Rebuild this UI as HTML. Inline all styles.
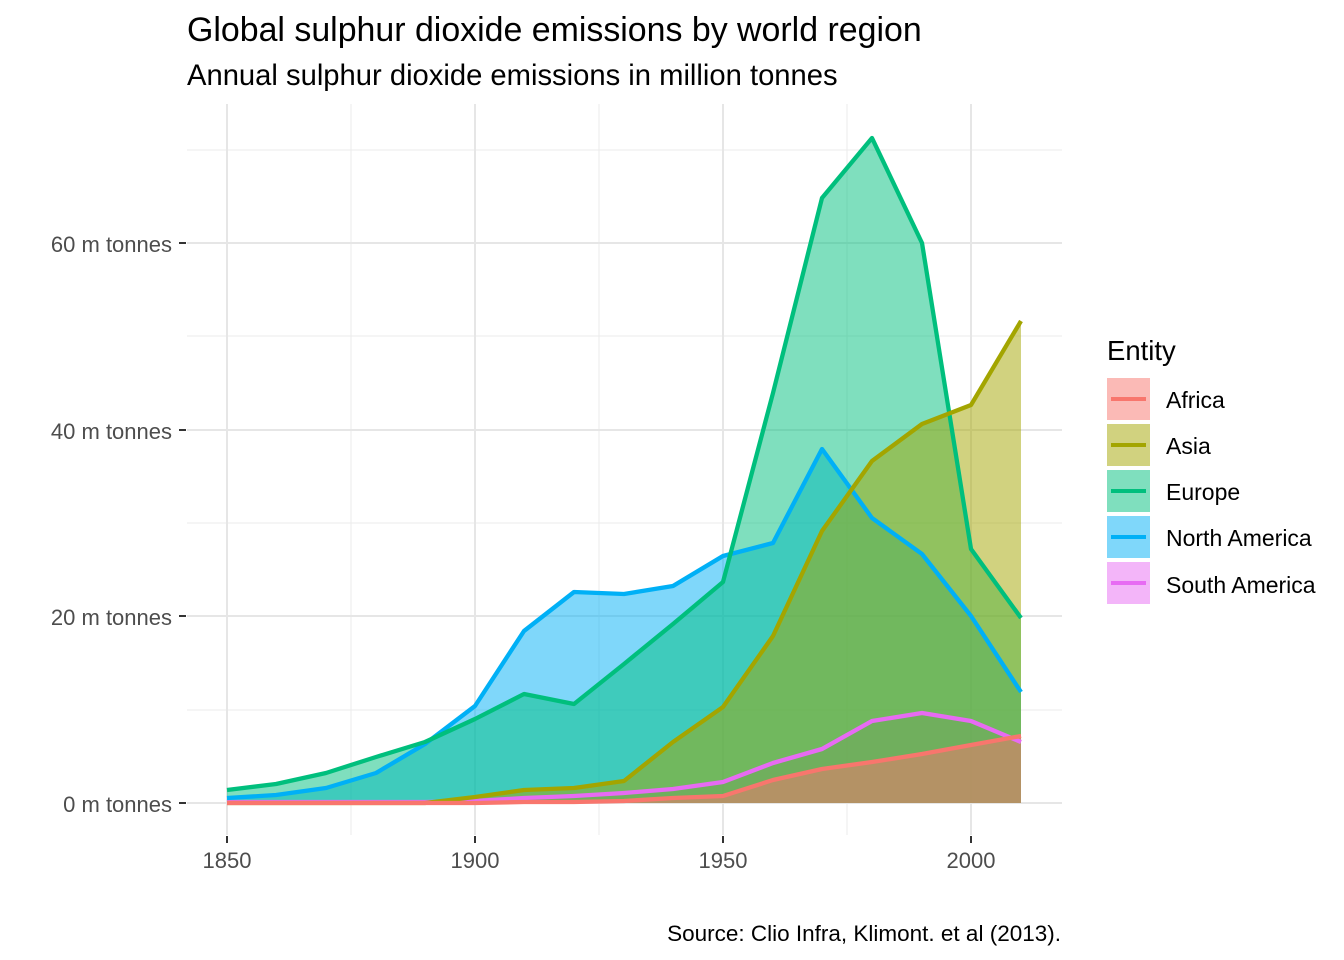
<!DOCTYPE html>
<html><head><meta charset="utf-8"><style>body{margin:0;background:#fff}svg{display:block;font-family:"Liberation Sans",Arial,sans-serif}</style></head><body>
<svg width="1344" height="960" viewBox="0 0 1344 960">
<rect width="1344" height="960" fill="#fff"/>
<g stroke="#ebebeb" stroke-width="1">
<line x1="187" x2="1062" y1="710" y2="710"/><line x1="187" x2="1062" y1="523" y2="523"/><line x1="187" x2="1062" y1="336" y2="336"/><line x1="187" x2="1062" y1="150" y2="150"/>
<line x1="351" x2="351" y1="104" y2="835"/><line x1="599" x2="599" y1="104" y2="835"/><line x1="847" x2="847" y1="104" y2="835"/>
</g>
<g stroke="#e6e6e6" stroke-width="2">
<line x1="187" x2="1062" y1="803" y2="803"/><line x1="187" x2="1062" y1="616" y2="616"/><line x1="187" x2="1062" y1="430" y2="430"/><line x1="187" x2="1062" y1="243" y2="243"/>
<line x1="227" x2="227" y1="104" y2="835"/><line x1="475" x2="475" y1="104" y2="835"/><line x1="723" x2="723" y1="104" y2="835"/><line x1="971" x2="971" y1="104" y2="835"/>
</g>
<g fill-opacity="0.5">
<polygon fill="#E76BF3" points="227,803 227,802 276,802 326,802 376,802 425,802 475,801 524,798 574,796 624,793 673,789 723,782 773,763 822,749 872,721 922,713 971,721 1021,742 1021,803"/>
<polygon fill="#00B0F6" points="227,803 227,798 276,795 326,788 376,773 425,744 475,706 524,631 574,592 624,594 673,586 723,556 773,543 822,449 872,518 922,554 971,616 1021,692 1021,803"/>
<polygon fill="#00BF7D" points="227,803 227,790 276,784 326,773 376,757 425,742 475,719 524,694 574,704 624,664 673,624 723,582 773,393 822,198 872,138 922,243 971,549 1021,618 1021,803"/>
<polygon fill="#A3A500" points="227,803 227,803 276,803 326,803 376,803 425,803 475,797 524,790 574,788 624,781 673,742 723,707 773,636 822,531 872,461 922,424 971,405 1021,321 1021,803"/>
<polygon fill="#F8766D" points="227,803 227,803 276,803 326,803 376,803 425,803 475,803 524,802 574,802 624,801 673,798 723,796 773,780 822,769 872,762 922,754 971,745 1021,736 1021,803"/>
</g>
<g fill="none" stroke-width="4.3" stroke-linejoin="round">
<polyline stroke="#E76BF3" points="227,802 276,802 326,802 376,802 425,802 475,801 524,798 574,796 624,793 673,789 723,782 773,763 822,749 872,721 922,713 971,721 1021,742"/>
<polyline stroke="#00B0F6" points="227,798 276,795 326,788 376,773 425,744 475,706 524,631 574,592 624,594 673,586 723,556 773,543 822,449 872,518 922,554 971,616 1021,692"/>
<polyline stroke="#00BF7D" points="227,790 276,784 326,773 376,757 425,742 475,719 524,694 574,704 624,664 673,624 723,582 773,393 822,198 872,138 922,243 971,549 1021,618"/>
<polyline stroke="#A3A500" points="227,803 276,803 326,803 376,803 425,803 475,797 524,790 574,788 624,781 673,742 723,707 773,636 822,531 872,461 922,424 971,405 1021,321"/>
<polyline stroke="#F8766D" points="227,803 276,803 326,803 376,803 425,803 475,803 524,802 574,802 624,801 673,798 723,796 773,780 822,769 872,762 922,754 971,745 1021,736"/>
</g>
<g fill="#4d4d4d" font-size="22" text-anchor="end">
<text x="172" y="812">0 m tonnes</text><text x="172" y="625">20 m tonnes</text><text x="172" y="439">40 m tonnes</text><text x="172" y="252">60 m tonnes</text>
</g>
<g stroke="#333" stroke-width="2"><line x1="179" x2="186" y1="803" y2="803"/><line x1="179" x2="186" y1="616" y2="616"/><line x1="179" x2="186" y1="430" y2="430"/><line x1="179" x2="186" y1="243" y2="243"/>
<line x1="227" x2="227" y1="836" y2="843"/><line x1="475" x2="475" y1="836" y2="843"/><line x1="723" x2="723" y1="836" y2="843"/><line x1="971" x2="971" y1="836" y2="843"/></g>
<g fill="#4d4d4d" font-size="22" text-anchor="middle">
<text x="227" y="868">1850</text><text x="475" y="868">1900</text><text x="723" y="868">1950</text><text x="971" y="868">2000</text>
</g>
<text x="187" y="41" font-size="33.9" fill="#000">Global sulphur dioxide emissions by world region</text>
<text x="187" y="85" font-size="29.2" fill="#000">Annual sulphur dioxide emissions in million tonnes</text>
<text x="1061" y="941" font-size="22.5" fill="#000" text-anchor="end">Source: Clio Infra, Klimont. et al (2013).</text>
<text x="1107" y="360" font-size="27.5" fill="#000">Entity</text>
<g font-size="23" fill="#000">
<rect x="1107" y="378" width="43" height="42" fill="#F8766D" fill-opacity="0.5"/><line x1="1111" x2="1146" y1="399" y2="399" stroke="#F8766D" stroke-width="4"/><text x="1166" y="408">Africa</text>
<rect x="1107" y="424" width="43" height="42" fill="#A3A500" fill-opacity="0.5"/><line x1="1111" x2="1146" y1="445" y2="445" stroke="#A3A500" stroke-width="4"/><text x="1166" y="454">Asia</text>
<rect x="1107" y="470" width="43" height="42" fill="#00BF7D" fill-opacity="0.5"/><line x1="1111" x2="1146" y1="491" y2="491" stroke="#00BF7D" stroke-width="4"/><text x="1166" y="500">Europe</text>
<rect x="1107" y="516" width="43" height="42" fill="#00B0F6" fill-opacity="0.5"/><line x1="1111" x2="1146" y1="537" y2="537" stroke="#00B0F6" stroke-width="4"/><text x="1166" y="546">North America</text>
<rect x="1107" y="562" width="43" height="42" fill="#E76BF3" fill-opacity="0.5"/><line x1="1111" x2="1146" y1="583" y2="583" stroke="#E76BF3" stroke-width="4"/><text x="1166" y="593">South America</text>
</g>
</svg>
</body></html>
